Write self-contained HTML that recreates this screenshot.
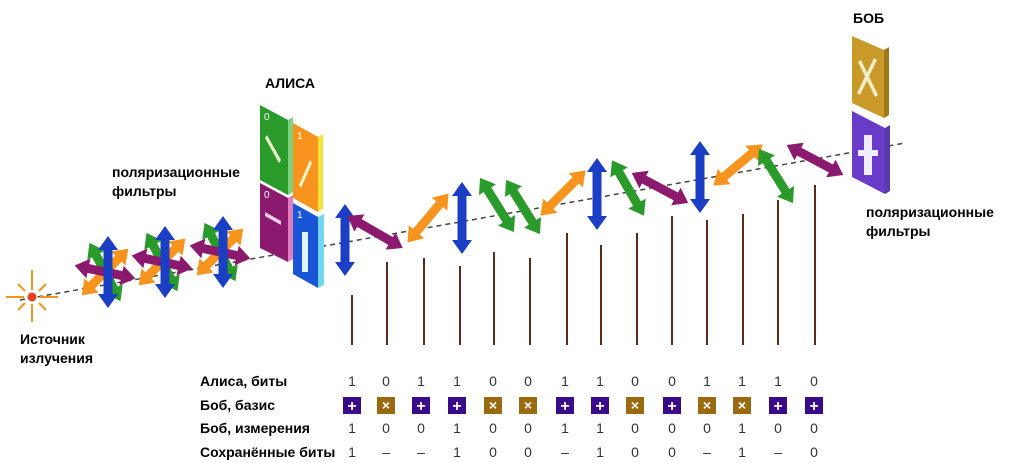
<!DOCTYPE html>
<html><head><meta charset="utf-8"><style>
html,body{margin:0;padding:0;background:#fff;width:1024px;height:463px;overflow:hidden}
svg{display:block}
text{font-family:"Liberation Sans",sans-serif}
.lbl{font-weight:bold;font-size:14px;fill:#000}
.val{font-size:14px;fill:#333}
</style></head><body>
<svg id="s" width="1024" height="463" viewBox="0 0 1024 463">
<line x1="20" y1="300" x2="905" y2="143" stroke="#444" stroke-width="1.5" stroke-dasharray="5,4"/>
<g id="posts"></g>
<g id="bundles"></g>
<g id="arrows"></g>
<g stroke="#f7941d" stroke-width="2">
<line x1="32" y1="270" x2="32" y2="290"/><line x1="32" y1="304" x2="32" y2="322"/>
<line x1="6" y1="297" x2="24" y2="297"/><line x1="40" y1="297" x2="58" y2="297"/>
<line x1="18" y1="284" x2="25" y2="291"/><line x1="39" y1="303" x2="46" y2="310"/>
<line x1="46" y1="284" x2="39" y2="291"/><line x1="25" y1="303" x2="18" y2="310"/>
<circle cx="32" cy="297" r="4.5" fill="#e8401c" stroke="none"/>
</g>
<g>
<polygon points="288,120 293,117 293,192 288,195" fill="#7fd07f"/>
<polygon points="260,105 288,120 288,195 260,180" fill="#2a9a2a"/>
<polygon points="318,137 323,134 323,209 318,212" fill="#f5e23a"/>
<polygon points="293,123 318,137 318,212 293,198" fill="#f7941d"/>
<polygon points="288,198 293,195 293,259 288,262" fill="#e07fc0"/>
<polygon points="260,183 288,198 288,262 260,248" fill="#8b1a6e"/>
<polygon points="318,217 324,214 324,285 318,288" fill="#6fd8f0"/>
<polygon points="293,203 318,217 318,288 293,274" fill="#1a55d8"/>
<polygon points="267,135 281,160 279,163 265,138" fill="#e8f5c8"/>
<polygon points="310,160 299,185 301,188 312,163" fill="#fff3c8"/>
<polygon points="265,212 281,221 281,225 265,216" fill="#f0d0e8"/>
<rect x="302" y="232" width="6" height="40" fill="#e0f4ff"/>
<text x="264" y="120" font-size="10" fill="#fff">0</text>
<text x="297" y="139" font-size="10" fill="#fff">1</text>
<text x="264" y="198" font-size="10" fill="#fff">0</text>
<text x="297" y="218" font-size="10" fill="#fff">1</text>
</g>
<g>
<polygon points="884,50 889,47 889,115 884,118" fill="#a07818"/>
<polygon points="852,36 884,50 884,118 852,103" fill="#c99a2a"/>
<polygon points="861,60 878,95 875,97 858,62" fill="#f5ecc8"/>
<polygon points="877,60 860,95 857,93 874,58" fill="#f5ecc8"/>
<polygon points="885,128 890,125 890,191 885,194" fill="#5a3aa8"/>
<polygon points="852,111 885,128 885,194 852,177" fill="#6a3ac8"/>
<rect x="864" y="135" width="8" height="40" fill="#f0ecff"/>
<rect x="858" y="150" width="20" height="6" fill="#f0ecff"/>
</g>
<text class="lbl" x="265" y="88">АЛИСА</text>
<text class="lbl" x="853" y="23">БОБ</text>
<text class="lbl" x="112" y="177">поляризационные</text>
<text class="lbl" x="112" y="196">фильтры</text>
<text class="lbl" x="866" y="217">поляризационные</text>
<text class="lbl" x="866" y="236">фильтры</text>
<text class="lbl" x="20" y="344">Источник</text>
<text class="lbl" x="20" y="363">излучения</text>
<text class="lbl" x="200" y="386">Алиса, биты</text>
<text class="lbl" x="200" y="410">Боб, базис</text>
<text class="lbl" x="200" y="433">Боб, измерения</text>
<text class="lbl" x="200" y="457">Сохранённые биты</text>
<g id="table"></g>
</svg>
<script>
const aliceBits=["1","0","1","1","0","0","1","1","0","0","1","1","1","0"];
const bobBasis=["+","x","+","+","x","x","+","+","x","+","x","x","+","+"];
const bobMeas=["1","0","0","1","0","0","1","1","0","0","0","1","0","0"];
const kept=["1","–","–","1","0","0","–","1","0","0","–","1","–","0"];
const colX=[352,386,421,457,493,528,565,600,635,672,707,742,778,814];
const NS="http://www.w3.org/2000/svg";
const tbl=document.getElementById('table');
function txt(x,y,s,cls){const t=document.createElementNS(NS,'text');t.setAttribute('x',x);t.setAttribute('y',y);t.setAttribute('text-anchor','middle');t.setAttribute('class',cls);t.textContent=s;return t;}
for(let i=0;i<14;i++){
 const x=colX[i];
 let t=txt(x,386,aliceBits[i],'val');
 
 
 tbl.appendChild(t);
 const r=document.createElementNS(NS,'rect');
 r.setAttribute('x',x-9);r.setAttribute('y',397);r.setAttribute('width',18);r.setAttribute('height',17);
 r.setAttribute('fill',bobBasis[i]==='+'?'#3a0a8a':'#9a6a10');
 
 
 tbl.appendChild(r);
 t=txt(x,bobBasis[i]==='+'?411:410,bobBasis[i]==='+'?'+':'×','');
 t.setAttribute('style','fill:#fff;font-weight:bold;font-size:'+(bobBasis[i]==='+'?'16px':'14px'));
 
 
 tbl.appendChild(t);
 t=txt(x,433,bobMeas[i],'val');
 
 
 tbl.appendChild(t);
 t=txt(x,457,kept[i],'val');
 
 
 tbl.appendChild(t);
}
const postX=[352,387,424,460,494,530,567,601,637,672,707,743,778,815];
const postTop=[295,262,258,266,252,258,233,245,233,216,220,214,200,185];
const posts=document.getElementById('posts');
for(let i=0;i<postX.length;i++){
 const l=document.createElementNS(NS,'line');
 l.setAttribute('x1',postX[i]);l.setAttribute('x2',postX[i]);l.setAttribute('y1',postTop[i]);l.setAttribute('y2',345);
 l.setAttribute('stroke','#5a2a1a');l.setAttribute('stroke-width','2');
 
 
 posts.appendChild(l);
}
const COL={b:'#1a3fc4',p:'#8b1a6e',o:'#f7941d',g:'#2a9a2a'};
function arrow(cx,cy,ang,L,c,parent,name){
 const h=14,hw=10,sw=4.5,a=L/2;
 const pts=[[-a,0],[-a+h,-hw],[-a+h,-sw],[a-h,-sw],[a-h,-hw],[a,0],[a-h,hw],[a-h,sw],[-a+h,sw],[-a+h,hw]];
 const p=document.createElementNS(NS,'polygon');
 p.setAttribute('points',pts.map(q=>q.join(',')).join(' '));
 p.setAttribute('fill',COL[c]);
 p.setAttribute('transform',`translate(${cx},${cy}) rotate(${ang})`);
 
 
 parent.appendChild(p);
}
const arrX=[345,375,428,462,497,523,563,597,628,660,700,738,776,815];
const arrY=[240,232,218,218,205,207,193,194,188,188,177,165,176,160];
const arrA=[90,30,-50,90,58,58,-45,90,60,28,90,-40,58,28];
const arrC=['b','p','o','b','g','g','o','b','g','p','b','o','g','p'];
const ag=document.getElementById('arrows');
for(let i=0;i<arrX.length;i++){arrow(arrX[i],arrY[i],arrA[i],arrA[i]===90?72:64,arrC[i],ag,'photon-arrow');}
const bg=document.getElementById('bundles');
[[105,272],[162,262],[220,252]].forEach(([x,y])=>{
 arrow(x,y,62,66,'g',bg,'bundle-green');
 arrow(x,y,-45,66,'o',bg,'bundle-orange');
 arrow(x,y,12,62,'p',bg,'bundle-purple');
 arrow(x+3,y,90,72,'b',bg,'bundle-blue');
});
</script>
</body></html>
